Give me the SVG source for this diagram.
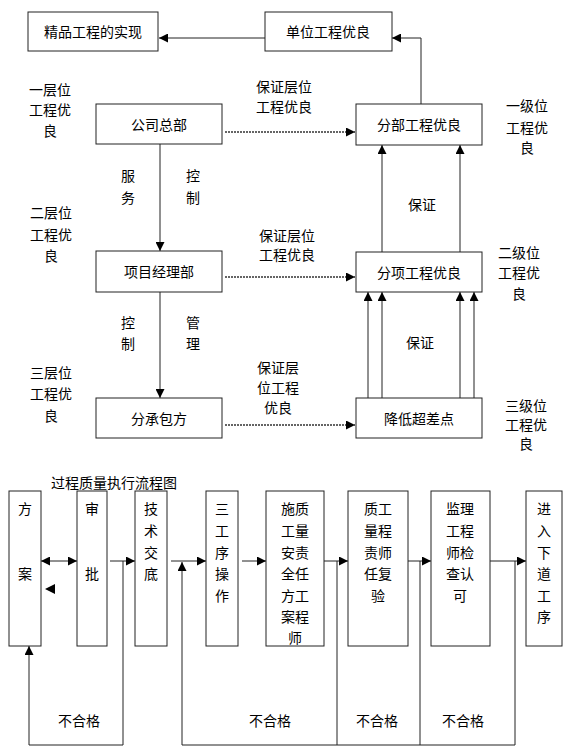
<svg xmlns="http://www.w3.org/2000/svg" width="576" height="750" viewBox="0 0 576 750">
<style>
text{font-family:"Noto Sans CJK SC","Liberation Sans",sans-serif;font-size:14px;fill:#000;text-anchor:middle;dominant-baseline:central}
.box{fill:#fff;stroke:#222;stroke-width:1}
.c{fill:none;stroke:#222;stroke-width:1}
.d{fill:none;stroke:#333;stroke-width:1.4;stroke-dasharray:2,1}
.tri{fill:#000}
</style>
<defs>
<marker id="ah" viewBox="0 0 10 10" refX="10" refY="5" markerWidth="9" markerHeight="9" markerUnits="userSpaceOnUse" orient="auto-start-reverse"><path d="M0,0 L10,5 L0,10 z" fill="#000"/></marker>
</defs>
<rect width="576" height="750" fill="#fff"/>
<g id="connectors">
<path class="c" d="M265,38 L159,38" marker-end="url(#ah)"/>
<path class="c" d="M421,104 L421,38 L392,38" marker-end="url(#ah)"/>
<path class="d" d="M225,132 L355,132" marker-end="url(#ah)"/>
<path class="d" d="M225,277 L355,277" marker-end="url(#ah)"/>
<path class="d" d="M225,425 L355,425" marker-end="url(#ah)"/>
<path class="c" d="M160,144 L160,251" marker-end="url(#ah)"/>
<path class="c" d="M160,292 L160,398" marker-end="url(#ah)"/>
<path class="c" d="M382,252 L382,145" marker-end="url(#ah)"/>
<path class="c" d="M460,252 L460,145" marker-end="url(#ah)"/>
<path class="c" d="M368,398 L368,292" marker-end="url(#ah)"/>
<path class="c" d="M382,398 L382,292" marker-end="url(#ah)"/>
<path class="c" d="M460,398 L460,292" marker-end="url(#ah)"/>
<path class="c" d="M474,398 L474,292" marker-end="url(#ah)"/>
<path class="c" d="M41,561 L77,561" marker-start="url(#ah)" marker-end="url(#ah)"/>
<path class="tri" d="M55,584 L45,589 L55,594 z"/>
<path class="c" d="M110,561 L135,561" marker-end="url(#ah)"/>
<path class="c" d="M123,561 L123,745 L29,745 L29,646" marker-end="url(#ah)"/>
<path class="c" d="M171,561 L206,561" marker-end="url(#ah)"/>
<path class="c" d="M242,561 L266,561" marker-end="url(#ah)"/>
<path class="c" d="M324,561 L348,561" marker-end="url(#ah)"/>
<path class="c" d="M408,561 L431,561" marker-end="url(#ah)"/>
<path class="c" d="M490,561 L526,561" marker-end="url(#ah)"/>
<path class="c" d="M515,561 L515,745 L182,745 L182,562" marker-end="url(#ah)"/>
<path class="c" d="M337,561 L337,745"/>
<path class="c" d="M420,561 L420,745"/>
<path class="tri" d="M447,571 L437,576 L447,581 z"/>
</g>
<g id="n-jingpin"><rect class="box" x="28" y="12" width="130" height="39"/><text x="93" y="31">精品工程的实现</text></g>
<g id="n-danwei"><rect class="box" x="265" y="12" width="127" height="39"/><text x="328" y="31">单位工程优良</text></g>
<g id="n-gongsi"><rect class="box" x="96" y="104" width="126" height="40"/><text x="159" y="124">公司总部</text></g>
<g id="n-fenbu"><rect class="box" x="356" y="104" width="126" height="41"/><text x="419" y="124">分部工程优良</text></g>
<g id="n-xiangmu"><rect class="box" x="96" y="251" width="126" height="41"/><text x="159" y="271">项目经理部</text></g>
<g id="n-fenxiang"><rect class="box" x="356" y="252" width="126" height="40"/><text x="419" y="272">分项工程优良</text></g>
<g id="n-fencheng"><rect class="box" x="96" y="398" width="126" height="40"/><text x="159" y="418">分承包方</text></g>
<g id="n-jiangdi"><rect class="box" x="356" y="398" width="126" height="40"/><text x="419" y="418">降低超差点</text></g>
<g id="labels-top">
<text x="50"><tspan x="50" y="89">一层位</tspan><tspan x="50" y="109">工程优</tspan><tspan x="50" y="130">良</tspan></text>
<text x="51"><tspan x="51" y="212">二层位</tspan><tspan x="51" y="234">工程优</tspan><tspan x="51" y="255">良</tspan></text>
<text x="51"><tspan x="51" y="372">三层位</tspan><tspan x="51" y="393">工程优</tspan><tspan x="51" y="415">良</tspan></text>
<text x="527"><tspan x="527" y="105">一级位</tspan><tspan x="527" y="127">工程优</tspan><tspan x="527" y="147">良</tspan></text>
<text x="519"><tspan x="519" y="252">二级位</tspan><tspan x="519" y="272">工程优</tspan><tspan x="519" y="293">良</tspan></text>
<text x="526"><tspan x="526" y="405">三级位</tspan><tspan x="526" y="424">工程优</tspan><tspan x="526" y="443">良</tspan></text>
<text x="284"><tspan x="284" y="86">保证层位</tspan><tspan x="284" y="106">工程优良</tspan></text>
<text x="287"><tspan x="287" y="235">保证层位</tspan><tspan x="287" y="254">工程优良</tspan></text>
<text x="278"><tspan x="278" y="367">保证层</tspan><tspan x="278" y="387">位工程</tspan><tspan x="278" y="407">优良</tspan></text>
<text x="128"><tspan x="128" y="175">服</tspan><tspan x="128" y="197">务</tspan></text>
<text x="193"><tspan x="193" y="175">控</tspan><tspan x="193" y="197">制</tspan></text>
<text x="128"><tspan x="128" y="322">控</tspan><tspan x="128" y="343">制</tspan></text>
<text x="193"><tspan x="193" y="322">管</tspan><tspan x="193" y="343">理</tspan></text>
<text x="422" y="204">保证</text>
<text x="420" y="342">保证</text>
</g>
<text x="114" y="482">过程质量执行流程图</text>
<g id="n-fangan"><rect class="box" x="9" y="491" width="32" height="155"/><text x="25"><tspan x="25" y="508">方</tspan><tspan x="25" y="573">案</tspan></text></g>
<g id="n-shenpi"><rect class="box" x="77" y="491" width="30" height="155"/><text x="92"><tspan x="92" y="508">审</tspan><tspan x="92" y="573">批</tspan></text></g>
<g id="n-jishu"><rect class="box" x="135" y="491" width="32" height="155"/><text x="151"><tspan x="151" y="508">技</tspan><tspan x="151" y="530">术</tspan><tspan x="151" y="552">交</tspan><tspan x="151" y="573">底</tspan></text></g>
<g id="n-sangongxu"><rect class="box" x="206" y="491" width="32" height="155"/><text x="222"><tspan x="222" y="508">三</tspan><tspan x="222" y="530">工</tspan><tspan x="222" y="552">序</tspan><tspan x="222" y="573">操</tspan><tspan x="222" y="595">作</tspan></text></g>
<g id="n-shigong"><rect class="box" x="266" y="491" width="58" height="155"/><text x="295"><tspan x="295" y="508">施质</tspan><tspan x="295" y="530">工量</tspan><tspan x="295" y="552">安责</tspan><tspan x="295" y="573">全任</tspan><tspan x="295" y="595">方工</tspan><tspan x="295" y="616">案程</tspan><tspan x="295" y="637">师</tspan></text></g>
<g id="n-zhiliang"><rect class="box" x="348" y="491" width="60" height="155"/><text x="378"><tspan x="378" y="508">质工</tspan><tspan x="378" y="530">量程</tspan><tspan x="378" y="552">责师</tspan><tspan x="378" y="573">任复</tspan><tspan x="378" y="595">验</tspan></text></g>
<g id="n-jianli"><rect class="box" x="431" y="491" width="59" height="155"/><text x="460"><tspan x="460" y="508">监理</tspan><tspan x="460" y="530">工程</tspan><tspan x="460" y="552">师检</tspan><tspan x="460" y="573">查认</tspan><tspan x="460" y="595">可</tspan></text></g>
<g id="n-jinru"><rect class="box" x="526" y="491" width="36" height="155"/><text x="544"><tspan x="544" y="508">进</tspan><tspan x="544" y="530">入</tspan><tspan x="544" y="552">下</tspan><tspan x="544" y="573">道</tspan><tspan x="544" y="595">工</tspan><tspan x="544" y="616">序</tspan></text></g>
<g id="labels-bottom">
<text x="79" y="720">不合格</text>
<text x="270" y="720">不合格</text>
<text x="377" y="720">不合格</text>
<text x="463" y="720">不合格</text>
</g>
</svg>
